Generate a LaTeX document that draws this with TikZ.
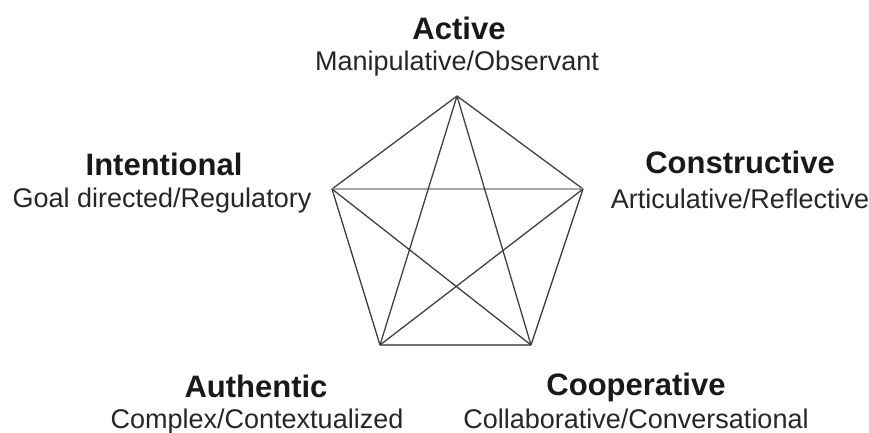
\documentclass[tikz,border=0pt]{standalone}
\usepackage{fontspec}
\setmainfont{Liberation Sans}
\begin{document}
\begin{tikzpicture}[x=1pt,y=-1pt,
  title/.style={anchor=base,inner sep=0pt,font=\fontsize{31}{36}\selectfont\bfseries,text=black!90},
  subtitle/.style={anchor=base,inner sep=0pt,font=\fontsize{27}{32}\selectfont,text=black!85},
  edge/.style={draw=black!75,line width=1.3pt},
  lightedge/.style={draw=black!35,line width=1.3pt},
  midedge/.style={draw=black!55,line width=1.3pt}]
\useasboundingbox (0,0) rectangle (869,432);
% vertices
\coordinate (T) at (457,96);
\coordinate (L) at (332,189);
\coordinate (R) at (583,189);
\coordinate (BL) at (380,345);
\coordinate (BR) at (531,345);
% pentagon edges
\draw[edge] (T) -- (L);
\draw[edge] (T) -- (R);
\draw[edge] (L) -- (BL);
\draw[edge] (R) -- (BR);
\draw[midedge] (BL) -- (BR);
% diagonals
\draw[lightedge] (L) -- (R);
\draw[edge] (T) -- (BL);
\draw[edge] (T) -- (BR);
\draw[edge] (L) -- (BR);
\draw[edge] (R) -- (BL);
% labels
\node[title] (act) at (459,39) {Active};
\node[subtitle] (actS) at (457,70) {Manipulative/Observant};
\node[title] (int) at (164,175) {Intentional};
\node[subtitle] (intS) at (162,207) {Goal directed/Regulatory};
\node[title] (con) at (740,173) {Constructive};
\node[subtitle] (conS) at (740,208) {Articulative/Reflective};
\node[title] (aut) at (256,397) {Authentic};
\node[subtitle] (autS) at (257,428) {Complex/Contextualized};
\node[title] (coo) at (636,395) {Cooperative};
\node[subtitle] (cooS) at (636,428) {Collaborative/Conversational};
\end{tikzpicture}
\end{document}
